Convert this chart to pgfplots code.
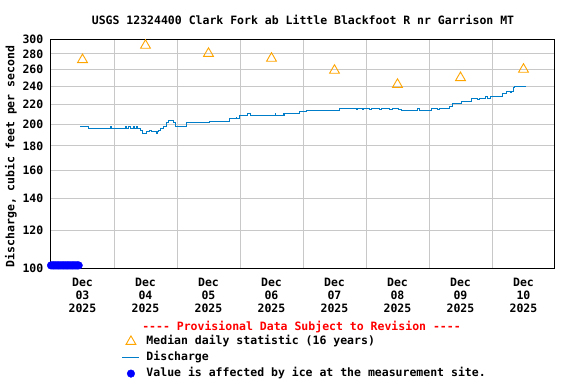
\documentclass[border=0pt]{standalone}
\usepackage{fontspec}
\setmonofont{DejaVu Sans Mono}
\usepackage{pgfplots}
\pgfplotsset{compat=1.18}
\definecolor{qblue}{RGB}{0,125,200}
\definecolor{qorange}{RGB}{255,165,0}
\definecolor{qgrid}{RGB}{200,200,200}
\newcommand{\cf}{\fontsize{11.5}{13}\selectfont\ttfamily\bfseries}
\begin{document}
\begin{tikzpicture}[x=1pt,y=1pt]
\path[use as bounding box] (0,0) rectangle (576,384);
\node[font=\cf] at (303,364) {USGS 12324400 Clark Fork ab Little Blackfoot R nr Garrison MT};
\node[font=\cf, rotate=90] at (11,227.5) {Discharge, cubic feet per second};
\node[font=\cf, text=red] at (301.5,56.7) {---- Provisional Data Subject to Revision ----};
\begin{axis}[
  at={(51pt,115.7pt)}, anchor=south west,
  scale only axis, width=504pt, height=228.8pt,
  xmin=0, xmax=8, ymode=log, ymin=100, ymax=300,
  clip=false,
  axis line style={black, line width=1pt},
  xtick={0.5,1.5,2.5,3.5,4.5,5.5,6.5,7.5},
  xticklabels={{Dec\\03\\2025},{Dec\\04\\2025},{Dec\\05\\2025},{Dec\\06\\2025},{Dec\\07\\2025},{Dec\\08\\2025},{Dec\\09\\2025},{Dec\\10\\2025}},
  minor xtick={1,2,3,4,5,6,7},
  xminorgrids=true, xmajorgrids=false,
  ytick={100,120,140,160,180,200,220,240,260,280,300},
  yticklabels={100,120,140,160,180,200,220,240,260,280,300},
  log basis y=10,
  ymajorgrids=true,
  yminorticks=false,
  major tick length=0pt, minor tick length=0pt,
  grid style={qgrid, line width=0.9pt},
  minor grid style={qgrid, line width=0.9pt},
  xticklabel style={font=\cf, align=center, inner sep=0pt, anchor=north, yshift=-10pt},
  yticklabel style={font=\cf, inner sep=0pt, anchor=east, xshift=-7.5pt},
  legend style={at={(0.1403,-0.2928)}, anchor=north west, draw=none, fill=none,
    font=\cf, inner sep=0pt, column sep=6pt, row sep=3.8pt,
    nodes={inner sep=0.5pt, text height=8.7pt, text depth=2.5pt}},
  legend cell align=left,
]
\addplot[only marks, mark=triangle, mark size=5.7pt, qorange, mark options={line width=0.9pt}]
  table {
x y
0.5 272.2
1.5 291.6
2.5 280.5
3.5 274.0
4.5 258.6
5.5 241.7
6.5 249.7
7.5 259.9
};
\addlegendentry{Median daily statistic (16 years)}
\addplot[const plot, qblue, line width=1pt, mark=none]
  table {
x y
0.460 198.0
0.592 195.7
0.944 197.5
0.960 195.7
1.183 197.5
1.198 195.7
1.238 197.5
1.254 195.7
1.310 197.5
1.325 195.7
1.357 197.5
1.373 195.7
1.413 193.5
1.456 191.4
1.519 192.5
1.571 193.5
1.603 192.5
1.667 191.0
1.683 192.5
1.714 193.5
1.746 195.7
1.783 198.0
1.837 201.0
1.862 203.0
1.941 201.0
1.984 198.0
2.143 201.0
2.508 202.8
2.841 205.0
2.937 206.5
2.952 205.0
3.000 208.4
3.122 210.0
3.159 208.4
3.556 210.0
3.571 208.4
3.683 210.0
3.698 208.4
3.714 210.0
3.952 212.0
4.048 213.7
4.576 215.5
4.857 214.0
4.873 215.5
4.937 214.0
4.968 215.5
5.063 214.0
5.095 215.5
5.222 214.0
5.254 215.5
5.381 214.0
5.413 215.5
5.508 214.0
5.567 213.7
5.825 215.5
5.857 213.7
6.032 215.5
6.138 214.0
6.159 215.5
6.333 217.2
6.370 220.8
6.519 223.2
6.667 226.1
6.773 224.5
6.794 226.1
6.889 227.9
6.921 226.1
6.984 227.9
7.075 228.5
7.163 231.6
7.233 234.2
7.286 233.0
7.302 234.2
7.338 237.9
7.365 239.8
7.540 239.8
};
\addlegendentry{Discharge}
\addplot[only marks, mark=*, mark size=3.8pt, blue, mark options={fill=blue, draw=blue}]
  table {
x y
0.00 101.4
0.02 101.4
0.04 101.4
0.06 101.4
0.08 101.4
0.10 101.4
0.12 101.4
0.14 101.4
0.16 101.4
0.18 101.4
0.20 101.4
0.22 101.4
0.24 101.4
0.26 101.4
0.28 101.4
0.30 101.4
0.32 101.4
0.34 101.4
0.36 101.4
0.38 101.4
0.40 101.4
0.42 101.4
0.44 101.4
};
\addlegendentry{Value is affected by ice at the measurement site.}
\end{axis}
\end{tikzpicture}
\end{document}
